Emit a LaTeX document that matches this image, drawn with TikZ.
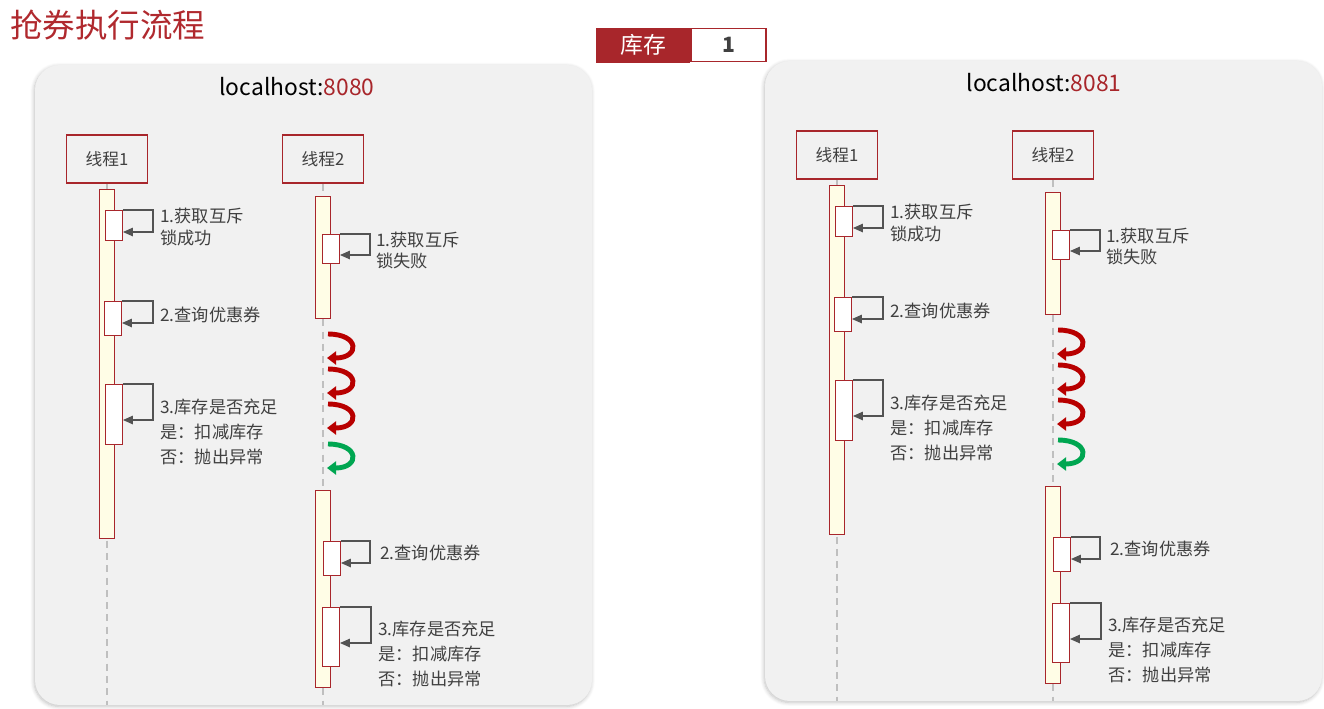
\documentclass[tikz,border=0pt]{standalone}
\usepackage{fontspec}
\setmainfont{Noto Sans CJK SC}
\usepackage{xcolor}
\usetikzlibrary{arrows.meta,positioning,shadows.blur}
\definecolor{brick}{HTML}{A8262B}
\definecolor{headRed}{HTML}{B0292E}
\definecolor{panel}{HTML}{F1F1F1}
\definecolor{ink}{HTML}{404040}
\definecolor{cream}{HTML}{FFFDE6}
\definecolor{spin}{HTML}{B80000}
\definecolor{go}{HTML}{00A651}
\tikzset{
  pane/.style={fill=panel, rounded corners=0.5cm,
               blur shadow={shadow blur steps=6, shadow xshift=-0.5pt,
                            shadow yshift=-0.8pt, shadow opacity=25}},
  thread/.style={draw=brick, line width=1.1pt, fill=panel, minimum width=1.62cm,
                 minimum height=0.96cm, font=\fontsize{9.5}{11}\selectfont\color{ink}},
  life/.style={draw=black!25, line width=0.8pt, dash pattern=on 4pt off 3pt},
  lane/.style={draw=brick, line width=0.8pt, fill=cream, minimum width=0.3cm,
               inner sep=0pt, anchor=north},
  call/.style={draw=brick, line width=0.8pt, fill=white, minimum width=0.33cm,
               inner sep=0pt, anchor=north},
  self/.style={-{Triangle[length=2mm,width=1.7mm]}, line width=0.8pt, draw=ink!90},
  note/.style={anchor=west, inner sep=0pt, align=left, text=ink,
               font=\fontsize{9.8}{12}\selectfont},
  note3/.style={note, font=\fontsize{9.8}{14}\selectfont},
  spinarrow/.style={-{Triangle[length=1.8mm,width=2.6mm]}, line width=2.8pt}
}
\begin{document}
\begin{tikzpicture}[x=0.02cm, y=-0.02cm]
  \useasboundingbox (0,0) rectangle (1324,708);
  \node[anchor=west, inner sep=0pt, text=headRed, font=\fontsize{18.5}{20}\selectfont]
    (title) at (10,25) {抢券执行流程};

  % stock counter
  \node[fill=brick, minimum width=1.88cm, minimum height=0.7cm, inner sep=0pt,
        text=white, font=\fontsize{13}{14}\selectfont] (stockKey) at (643,45) {库存};
  \node[draw=brick, line width=1.1pt, fill=white, minimum width=1.5cm, minimum height=0.66cm,
        inner sep=0pt, text=ink, font=\fontsize{12}{14}\selectfont\bfseries,
        right=0pt of stockKey] (stockVal) {1};

  \foreach \dx/\dy/\hx/\port/\side in {0/0/297/8080/L, 730/-4/314/8081/R}{
    \begin{scope}[shift={(\dx,\dy)}]
      \fill[pane] (35,65) rectangle (592,705);
      \node[font=\fontsize{13}{15}\selectfont] (host\side) at (\hx,87)
        {localhost:\textcolor{brick}{\port}};

      \node[thread] (th1\side) at (107,159) {线程1};
      \node[thread] (th2\side) at (323,159) {线程2};
      \coordinate (end1\side) at (107,705);
      \coordinate (end2\side) at (323,705);
      \draw[life] (th1\side) -- (end1\side);
      \draw[life] (th2\side) -- (end2\side);

      \node[lane, minimum height=6.98cm] (bar1\side) at (107,189) {};
      \node[lane, minimum height=2.44cm] (bar2\side) at (323,196) {};
      \node[lane, minimum height=3.94cm] (bar3\side) at (323,490) {};

      % thread 1
      \node[call, minimum height=0.6cm]  (c11\side) at (114,210) {};
      \node[call, minimum height=0.68cm] (c12\side) at (113,301) {};
      \node[call, minimum height=1.2cm]  (c13\side) at (114,384) {};
      \draw[self] (c11\side.north east) -- ++(30,0) -- ++(0,22) -- ++(-30,0);
      \draw[self] (c12\side.north east) -- ++(31,0) -- ++(0,22) -- ++(-31,0);
      \draw[self] (c13\side.north east) -- ++(30,0) -- ++(0,36) -- ++(-30,0);
      \node[note]  (n11\side) at (160,227) {1.获取互斥\\锁成功};
      \node[note]  (n12\side) at (160,315) {2.查询优惠券};
      \node[note3] (n13\side) at (160,432) {3.库存是否充足\\是：扣减库存\\否：抛出异常};

      % thread 2
      \node[call, minimum height=0.58cm] (c21\side) at (331,234) {};
      \node[call, minimum height=0.68cm] (c22\side) at (332,541) {};
      \node[call, minimum height=1.18cm] (c23\side) at (331,607) {};
      \draw[self] (c21\side.north east) -- ++(30,0) -- ++(0,21) -- ++(-30,0);
      \draw[self] (c22\side.north east) -- ++(29,0) -- ++(0,22) -- ++(-29,0);
      \draw[self] (c23\side.north east) -- ++(31,0) -- ++(0,36) -- ++(-31,0);
      \node[note]  (n21\side) at (376,250) {1.获取互斥\\锁失败};
      \node[note]  (n22\side) at (380,553) {2.查询优惠券};
      \node[note3] (n23\side) at (378,654) {3.库存是否充足\\是：扣减库存\\否：抛出异常};

      % retry spins
      \foreach \y/\c in {334/spin, 369/spin, 404/spin, 444/go}
        \draw[spinarrow, draw=\c] (328,\y) .. controls (360,\y) and (360,\y+24) .. (327,\y+24);
    \end{scope}
  }
\end{tikzpicture}
\end{document}
